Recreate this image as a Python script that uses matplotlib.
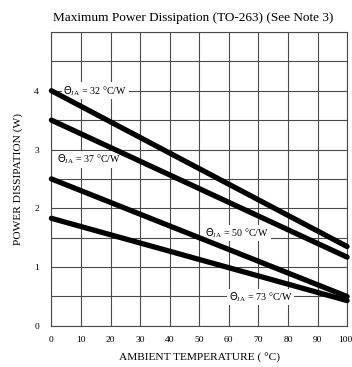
import matplotlib
matplotlib.use("Agg")
import matplotlib.pyplot as plt
import matplotlib.transforms as mtransforms

temps = [0, 100]
theta_labels = ["32", "37", "50", "73"]
p_32 = [4.0, 1.35]
p_37 = [3.5, 1.17]
p_50 = [2.5, 0.5]
p_73 = [1.83, 0.43]
x_ticks = [0, 10, 20, 30, 40, 50, 60, 70, 80, 90, 100]
y_ticks = [0, 1, 2, 3, 4]

plt.rcParams['font.family'] = ['Liberation Serif', 'DejaVu Serif']

fig = plt.figure(figsize=(3.52, 3.67), dpi=100)
ax = fig.add_axes([0.146, 0.112, 0.840, 0.801])

for ys in (p_32, p_37, p_50, p_73):
    ax.plot(temps, ys, color='black', lw=3.8, solid_capstyle='round', zorder=3, clip_on=False)

ax.set_xlim(0, 100)
ax.set_ylim(0, 5)
ax.set_xticks(x_ticks)
ax.set_yticks([0, 0.5, 1, 1.5, 2, 2.5, 3, 3.5, 4, 4.5, 5])
ax.set_yticklabels(['0', '', '1', '', '2', '', '3', '', '4', '', ''])
ax.set_xticklabels([str(v) for v in x_ticks])
ax.tick_params(axis='x', length=0, pad=7, labelsize=6.8)
ax.tick_params(axis='y', length=0, pad=9, labelsize=6.8)
ax.grid(True, color='#4a4a4a', lw=0.8, zorder=1)
for s in ax.spines.values():
    s.set_color('#4a4a4a')
    s.set_linewidth(0.8)

last = ax.get_xticklabels()[-1]
last.set_transform(last.get_transform() + mtransforms.ScaledTranslation(-2 / 100, 0, fig.dpi_scale_trans))

bb = dict(facecolor='white', edgecolor='none', pad=1.0)
labels_pos = [(4, 4.0, theta_labels[0]), (2, 2.83, theta_labels[1]),
              (52, 1.58, theta_labels[2]), (60, 0.49, theta_labels[3])]
for x, y, t in labels_pos:
    ax.text(x, y, r'$\Theta_{\mathregular{JA}}$' + ' = ' + t + ' °C/W', fontsize=7.2,
            ha='left', va='center', bbox=bb, zorder=2)

ax.set_title('Maximum Power Dissipation (TO-263) (See Note 3)', fontsize=9.5, pad=8, x=0.48)
ax.set_xlabel('AMBIENT TEMPERATURE ( °C)', fontsize=8.2, labelpad=7)
ax.set_ylabel('POWER DISSIPATION (W)', fontsize=8.2, labelpad=8)

fig.savefig('out.png', dpi=100)
